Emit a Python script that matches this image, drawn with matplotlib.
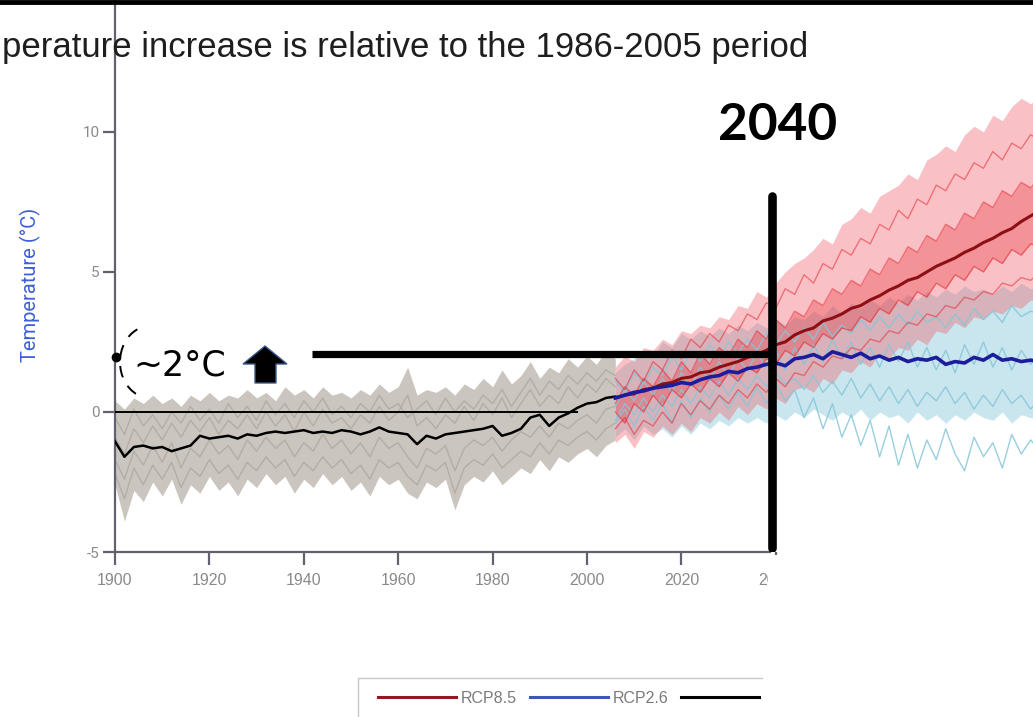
import numpy as np
import matplotlib.pyplot as plt
from matplotlib.patches import Polygon, Arc, Rectangle
from matplotlib.lines import Line2D

plt.rcParams['axes.unicode_minus'] = False

# ---- data (2-year steps) ----
hist_years = np.arange(1900, 2007, 2)
proj_years = np.arange(2006, 2097, 2)

hist_mean = [-1.05, -1.6, -1.25, -1.2, -1.3,
             -1.25, -1.4, -1.3, -1.2, -0.85,
             -0.95, -0.9, -0.85, -0.95, -0.8,
             -0.85, -0.75, -0.7, -0.75, -0.7,
             -0.65, -0.75, -0.7, -0.75, -0.65,
             -0.7, -0.8, -0.7, -0.55, -0.7,
             -0.75, -0.8, -1.15, -0.85, -0.95,
             -0.8, -0.75, -0.7, -0.65, -0.6,
             -0.5, -0.85, -0.75, -0.6, -0.2,
             -0.1, -0.5, -0.2, -0.05, 0.15,
             0.3, 0.35, 0.5, 0.55]
hist_hi = [0.4, 0.1, 0.5, 0.3, 0.6,
           0.3, 0.5, 0.2, 0.6, 0.4,
           0.7, 0.4, 0.6, 0.5, 0.8,
           0.5, 0.7, 0.4, 0.9, 0.6,
           0.8, 0.5, 0.9, 0.6, 0.7,
           0.5, 0.8, 0.6, 1.0, 0.7,
           0.9, 1.6, 0.6, 0.8, 0.7,
           0.9, 0.6, 1.0, 0.8, 1.2,
           0.9, 1.5, 1.0, 1.3, 1.8,
           1.2, 1.6, 1.4, 1.9, 1.6,
           2.0, 1.7, 2.2, 1.9]
hist_lo = [-2.6, -3.9, -2.8, -3.2, -2.5,
           -3.0, -2.4, -3.3, -2.6, -2.9,
           -2.3, -2.8, -2.5, -3.0, -2.4,
           -2.7, -2.2, -2.6, -2.3, -2.9,
           -2.4, -2.7, -2.2, -2.6, -2.3,
           -2.8, -2.5, -3.0, -2.3, -2.6,
           -2.4, -2.9, -3.1, -2.5, -2.7,
           -2.4, -3.5, -2.6, -2.3, -2.5,
           -2.1, -2.6, -2.3, -2.0, -2.2,
           -1.7, -2.1, -1.6, -1.8, -1.5,
           -1.3, -1.6, -1.2, -1.0]
hist_a = [-0.2, -0.8, 0.1, -0.5, -0.1, -0.6, 0.0, -0.4, 0.2, -0.3,
          0.1, -0.4, 0.3, -0.2, 0.2, -0.3, 0.4, -0.1, 0.3, -0.2,
          0.4, 0.0, 0.5, -0.1, 0.2, -0.2, 0.3, 0.0, 0.6, 0.1,
          0.3, -0.2, 0.1, 0.4, -0.1, 0.5, 0.0, 0.4, 0.1, 0.6,
          0.3, 0.8, 0.2, 0.7, 1.2, 0.6, 1.1, 0.8, 1.3, 1.0,
          1.4, 1.1, 1.5, 1.3]
hist_b = [-2.2, -3.1, -2.0, -2.6, -1.9, -2.4, -1.8, -2.7, -2.0, -2.3,
          -1.7, -2.2, -1.9, -2.4, -1.8, -2.1, -1.6, -2.0, -1.7, -2.3,
          -1.8, -2.1, -1.6, -2.0, -1.7, -2.2, -1.9, -2.4, -1.7, -2.0,
          -1.8, -2.3, -2.6, -1.9, -2.1, -1.8, -2.9, -2.0, -1.7, -1.9,
          -1.5, -2.0, -1.7, -1.4, -1.6, -1.1, -1.5, -1.0, -1.2, -0.9,
          -0.7, -1.0, -0.6, -0.4]
hist_c = [-0.9, -1.5, -0.6, -1.1, -0.5, -1.0, -0.4, -0.9, -0.3, -0.7,
          -0.2, -0.8, -0.3, -0.6, -0.1, -0.6, 0.0, -0.5, -0.1, -0.7,
          0.0, -0.5, 0.1, -0.4, -0.2, -0.6, -0.1, -0.4, 0.2, -0.3,
          0.0, 0.6, -0.5, -0.2, -0.6, -0.1, -0.4, 0.2, -0.3, 0.3,
          -0.1, 0.5, -0.2, 0.3, 0.8, 0.2, 0.6, 0.3, 0.9, 0.5,
          1.0, 0.7, 1.2, 0.9]
hist_d = [-1.7, -2.4, -1.4, -1.9, -1.2, -1.8, -1.1, -2.0, -1.3, -1.6,
          -1.0, -1.5, -1.2, -1.7, -1.0, -1.4, -0.9, -1.3, -1.0, -1.6,
          -1.1, -1.4, -0.8, -1.3, -1.0, -1.5, -1.1, -1.6, -0.9, -1.3,
          -1.1, -1.6, -2.0, -1.3, -1.5, -1.2, -2.1, -1.3, -1.0, -1.2,
          -0.9, -1.4, -1.0, -0.7, -0.9, -0.5, -0.9, -0.4, -0.6, -0.3,
          -0.1, -0.4, 0.1, 0.2]

rcp85_mean = [0.5, 0.6, 0.65, 0.8, 0.85, 1.0, 1.05, 1.2, 1.25, 1.4,
              1.45, 1.6, 1.7, 1.8, 1.95, 2.05, 2.2, 2.4, 2.5, 2.75,
              2.9, 3.0, 3.25, 3.35, 3.5, 3.7, 3.8, 4.0, 4.15, 4.35,
              4.5, 4.7, 4.8, 5.0, 5.2, 5.35, 5.5, 5.7, 5.85, 6.05,
              6.2, 6.4, 6.55, 6.8, 7.0, 7.2]
rcp85_hi = [1.6, 2.0, 1.8, 2.3, 2.2, 2.6, 2.4, 2.9, 2.8, 3.1,
            3.0, 3.4, 3.3, 3.8, 3.7, 4.3, 4.1, 4.6, 5.0, 5.3,
            5.5, 5.8, 6.2, 6.0, 6.7, 6.9, 7.3, 7.1, 7.7, 7.9,
            8.1, 8.5, 8.3, 9.0, 9.2, 9.5, 9.3, 9.9, 10.2, 10.0,
            10.6, 10.4, 10.9, 11.2, 11.0, 11.3]
rcp85_lo = [-1.1, -0.8, -1.3, -0.7, -0.9, -0.5, -0.8, -0.4, -0.7, -0.2,
            -0.4, 0.0, -0.3, 0.2, -0.1, 0.3, 0.1, 0.5, 0.3, 0.8,
            0.9, 0.7, 1.2, 1.0, 1.5, 1.4, 1.8, 1.6, 2.1, 1.9,
            2.3, 2.2, 2.6, 2.4, 2.9, 2.8, 3.2, 3.0, 3.4, 3.3,
            3.6, 3.5, 3.8, 3.7, 4.0, 3.9]
rcp85_a = [1.2, 0.8, 1.5, 1.1, 1.8, 1.5, 2.2, 1.9, 2.6, 2.3,
           2.8, 2.5, 3.1, 2.9, 3.5, 3.3, 3.9, 3.7, 4.4, 4.2,
           4.9, 4.6, 5.3, 5.1, 5.8, 5.6, 6.2, 6.0, 6.7, 6.5,
           7.2, 6.9, 7.6, 7.4, 8.1, 7.9, 8.5, 8.3, 8.9, 8.7,
           9.3, 9.0, 9.6, 9.4, 9.9, 9.7]
rcp85_b = [0.3, 0.9, 0.6, 1.2, 0.9, 1.5, 1.1, 1.8, 1.4, 2.1,
           1.7, 2.3, 2.0, 2.6, 2.3, 2.9, 2.6, 3.3, 3.0, 3.6,
           3.4, 4.0, 3.8, 4.4, 4.2, 4.7, 4.5, 5.1, 4.9, 5.5,
           5.3, 5.9, 5.7, 6.3, 6.1, 6.7, 6.5, 7.1, 6.9, 7.5,
           7.3, 7.9, 7.7, 8.2, 8.0, 8.4]
rcp85_c = [0.0, -0.4, 0.3, 0.0, 0.6, 0.2, 0.8, 0.5, 1.0, 0.7,
           1.2, 0.9, 1.4, 1.1, 1.6, 1.4, 1.9, 1.7, 2.2, 2.0,
           2.5, 2.3, 2.8, 2.6, 3.0, 2.9, 3.4, 3.2, 3.7, 3.5,
           4.0, 3.8, 4.3, 4.1, 4.6, 4.4, 4.9, 4.7, 5.2, 5.0,
           5.5, 5.3, 5.8, 5.6, 6.0, 5.9]
rcp85_d = [-0.6, -0.2, -0.8, -0.3, -0.5, 0.0, -0.4, 0.3, -0.1, 0.4,
           0.1, 0.6, 0.3, 0.8, 0.5, 1.0, 0.7, 1.2, 0.9, 1.4,
           1.3, 1.8, 1.6, 2.0, 1.9, 2.3, 2.2, 2.6, 2.5, 2.9,
           2.8, 3.2, 3.1, 3.5, 3.4, 3.8, 3.7, 4.1, 4.0, 4.3,
           4.2, 4.6, 4.5, 4.8, 4.7, 5.0]

rcp26_mean = [0.5, 0.6, 0.7, 0.75, 0.85, 0.9, 0.95, 1.05, 1.0, 1.15,
              1.25, 1.3, 1.45, 1.4, 1.55, 1.6, 1.7, 1.75, 1.65, 1.9,
              1.95, 2.05, 1.9, 2.15, 2.05, 1.95, 2.1, 1.9, 2.0, 1.85,
              1.95, 1.8, 1.9, 1.85, 1.95, 1.7, 1.8, 1.75, 1.95, 1.85,
              2.05, 1.85, 1.9, 1.8, 1.85, 1.8]
rcp26_hi = [1.4, 1.7, 1.9, 2.2, 2.0, 2.5, 2.3, 2.8, 2.6, 2.9,
            2.7, 3.0, 2.8, 3.1, 2.9, 3.2, 3.0, 3.3, 3.1, 3.4,
            3.3, 3.6, 3.4, 3.8, 3.5, 3.9, 3.7, 4.0, 3.8, 4.1,
            3.9, 4.2, 4.0, 4.3, 4.1, 4.4, 4.2, 4.5, 4.3, 4.4,
            4.2, 4.5, 4.3, 4.6, 4.4, 4.5]
rcp26_lo = [-0.9, -0.6, -1.0, -0.5, -0.8, -0.6, -0.9, -0.5, -0.8, -0.4,
            -0.6, -0.3, -0.5, -0.2, -0.4, -0.2, -0.4, -0.1, -0.3, 0.0,
            -0.2, 0.1, -0.1, -0.3, 0.0, -0.2, 0.1, -0.3, 0.0, -0.2,
            -0.1, -0.4, 0.0, -0.3, -0.1, -0.4, -0.1, -0.3, 0.0, -0.2,
            -0.3, 0.0, -0.4, -0.1, -0.2, -0.3]
rcp26_a = [1.1, 0.7, 1.4, 1.0, 1.6, 1.3, 2.0, 1.5, 2.2, 1.8,
           2.4, 1.9, 2.5, 2.1, 2.6, 2.2, 2.8, 2.4, 2.9, 2.5,
           3.0, 2.6, 3.2, 2.7, 3.1, 2.8, 3.3, 2.9, 3.4, 3.0,
           3.5, 3.1, 3.6, 3.2, 3.4, 3.0, 3.5, 3.1, 3.7, 3.3,
           3.6, 3.2, 3.8, 3.4, 3.6, 3.5]
rcp26_b = [0.2, 0.8, 0.4, 1.1, 0.6, 1.2, 0.7, 1.4, 0.9, 1.6,
           1.1, 1.8, 1.3, 1.9, 1.5, 2.1, 1.6, 2.2, 1.5, 2.3,
           1.7, 2.4, 1.8, 2.6, 1.9, 2.5, 1.7, 2.3, 1.6, 2.4,
           1.8, 2.5, 1.6, 2.3, 1.5, 2.2, 1.4, 2.4, 1.7, 2.5,
           1.6, 2.3, 1.5, 2.2, 1.7, 2.1]
rcp26_c = [-0.3, 0.3, -0.1, 0.5, 0.0, 0.6, 0.2, 0.8, 0.3, 0.9,
           0.5, 1.1, 0.6, 1.2, 0.8, 1.3, 0.9, 1.4, 1.0, 1.2,
           0.8, 1.3, 0.7, 1.1, 0.6, 1.2, 0.5, 1.0, 0.4, 0.9,
           0.3, 0.8, 0.2, 0.7, 0.4, 0.9, 0.3, 0.7, 0.1, 0.6,
           0.2, 0.8, 0.3, 0.6, 0.1, 0.5]
rcp26_d = [-0.4, 0.1, -0.5, 0.2, -0.3, 0.3, -0.4, 0.4, -0.2, 0.5,
           0.0, 0.6, 0.1, 0.7, 0.2, 0.9, 0.3, 1.0, 0.4, 0.8,
           -0.2, 0.5, -0.6, 0.3, -0.9, -0.1, -1.2, -0.3, -1.6, -0.5,
           -1.9, -0.8, -2.0, -1.0, -1.7, -0.6, -1.5, -2.1, -0.9, -1.6,
           -1.1, -2.0, -0.8, -1.5, -1.0, -1.4]

series_labels = ['RCP8.5', 'RCP2.6', 'Historical']
ytick_vals = [-5, 0, 5, 10]
xtick_vals = [1900, 1920, 1940, 1960, 1980, 2000, 2020, 2040]

marker_year = 2039.3     # the "2040" cut-off line
marker_temp = 2.07       # the ~2°C level
level_from = 1941.7      # left end of the ~2°C line
zero_line_end = 1998

# ---- figure ----
W, H = 1033, 717
fig = plt.figure(figsize=(W / 100, H / 100), dpi=100)


def fx(x):
    return x / W


def fy(y):
    return 1 - y / H


ax = fig.add_axes([fx(115), fy(552), fx(1033) - fx(115), fy(0) - fy(552)])
ax.set_xlim(1900, 2094.5)
ax.set_ylim(-5, 14.71)

# historical ensemble
ax.fill_between(hist_years, hist_lo, hist_hi, color='#bfb7af', alpha=0.8, lw=0)
for m in [hist_a, hist_b, hist_c, hist_d]:
    ax.plot(hist_years, m, color='#aca399', lw=1.0, alpha=0.7)

# RCP2.6 ensemble
ax.fill_between(proj_years, rcp26_lo, rcp26_hi, color='#a6d6e4', alpha=0.6, lw=0)
for m in [rcp26_a, rcp26_b, rcp26_c, rcp26_d]:
    ax.plot(proj_years, m, color='#86c6d9', lw=1.0, alpha=0.85)

# RCP8.5 ensemble
ax.fill_between(proj_years, rcp85_lo, rcp85_hi, color='#f0646e', alpha=0.4, lw=0)
ax.fill_between(proj_years, rcp85_c, rcp85_b, color='#e8262e', alpha=0.3, lw=0)
for m in [rcp85_a, rcp85_b, rcp85_c, rcp85_d]:
    ax.plot(proj_years, m, color='#e41f2a', lw=1.0, alpha=0.5)

ax.hlines(0, 1900, zero_line_end, color='black', lw=1.4, zorder=4)
ax.plot(hist_years, hist_mean, color='black', lw=1.8, zorder=5)
ax.plot(proj_years, rcp85_mean, color='#8b0f14', lw=2.2, zorder=5)
ax.plot(proj_years, rcp26_mean, color='#1c1c9c', lw=2.6, zorder=5)

# annotation lines
ax.hlines(marker_temp, level_from, marker_year, color='black', lw=5.2, zorder=8)
ax.vlines(marker_year, -4.85, 7.7, color='black', lw=6.2, zorder=9,
          capstyle='round')

# axes styling
for s in ['top', 'right']:
    ax.spines[s].set_visible(False)
for s in ['left', 'bottom']:
    ax.spines[s].set_color('#62626e')
    ax.spines[s].set_linewidth(1.6)
ax.spines['bottom'].set_bounds(1900, 2038.8)
ax.set_xticks(xtick_vals)
ax.set_yticks(ytick_vals)
ax.tick_params(length=9, width=1.6, color='#62626e', labelcolor='#8a8a8a')
for lab in ax.get_xticklabels():
    lab.set_family(['Liberation Sans Narrow', 'Liberation Sans'])
    lab.set_fontsize(11.5)
for lab in ax.get_yticklabels():
    lab.set_family('Roboto')
    lab.set_fontsize(11)
ax.tick_params(axis='x', pad=6)
ax.tick_params(axis='y', pad=2)

fig.text(fx(30), fy(285), 'Temperature (°C)', rotation=90, ha='center',
         va='center', color='#3f5fd6', fontsize=14.5, family='Roboto')

# title as it shows in the cropped screenshot
fig.text(fx(2), fy(57), 'perature increase is relative to the 1986-2005 period',
         ha='left', va='baseline', fontsize=25, color='#1e1e1e',
         family='Liberation Sans')

fig.text(fx(778), fy(125), '2040', ha='center', va='center', fontsize=37,
         weight='bold', family='Lato', color='black')

fig.text(fx(133), fy(366), '~2°C', ha='left', va='center', fontsize=25,
         family='DejaVu Sans', color='black')

# block arrow
arrow_px = [(265, 346), (243, 364), (255, 364), (255, 383), (276, 383),
            (276, 364), (287, 364)]
fig.add_artist(Polygon([(fx(x), fy(y)) for x, y in arrow_px], closed=True,
                       transform=fig.transFigure, facecolor='black',
                       edgecolor='#3b5b8c', lw=1))

# dashed bracket and dot
fig.add_artist(Arc((fx(150), fy(362)), 60 / W, 72 / H, theta1=105, theta2=255,
                   transform=fig.transFigure, color='black', lw=1.4,
                   linestyle=(0, (6, 5))))
fig.add_artist(Line2D([fx(116)], [fy(357)], marker='o', ms=6, color='black',
                      transform=fig.transFigure))

# top border
fig.add_artist(Line2D([0, 1], [fy(2), fy(2)], transform=fig.transFigure,
                      color='black', lw=3.5))

# legend (frame drawn separately so the entries sit a bit further in)
handles = [Line2D([], [], color='#8e1b22', lw=2.2),
           Line2D([], [], color='#3c59b0', lw=2.2),
           Line2D([], [], color='black', lw=2.2)]
fig.legend(handles, series_labels, loc='upper left',
           bbox_to_anchor=(fx(365), fy(678)), ncol=3, frameon=False,
           handlelength=4.9, handletextpad=0.3, columnspacing=0.8,
           borderpad=0.8, borderaxespad=0,
           prop={'family': 'Liberation Sans', 'size': 11.5},
           labelcolor='#7a7a7a')
fig.add_artist(Rectangle((fx(358), fy(722)), fx(420), fy(678) - fy(722),
                         transform=fig.transFigure, facecolor='none',
                         edgecolor='#c8c8c8', lw=1))

# white cover over the cropped-out lower right
fig.add_artist(Rectangle((fx(768), fy(640)), 1 - fx(768), fy(555) - fy(640),
                         transform=fig.transFigure, facecolor='white',
                         edgecolor='none', zorder=6))
fig.add_artist(Rectangle((fx(763), 0), 1 - fx(763), fy(640),
                         transform=fig.transFigure, facecolor='white',
                         edgecolor='none', zorder=6))

fig.savefig('out.png', dpi=100)
